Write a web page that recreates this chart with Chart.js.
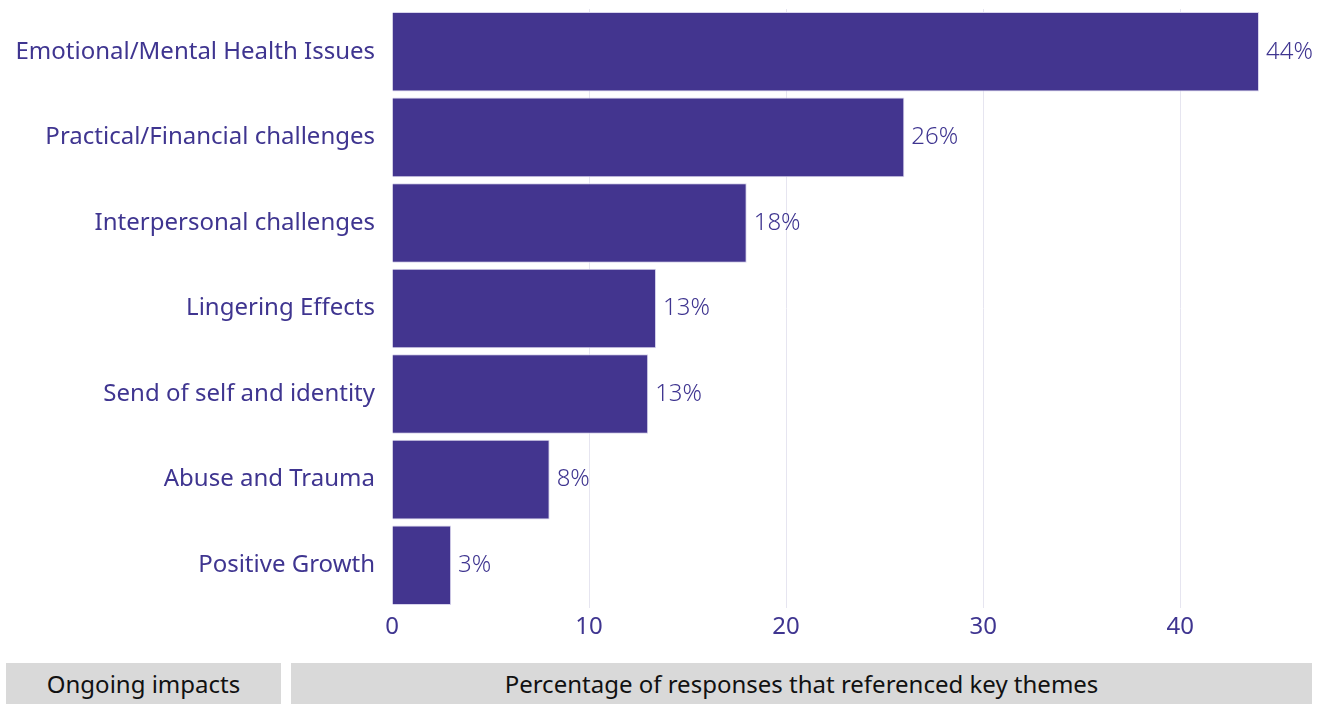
<!DOCTYPE html>
<html>
<head>
<meta charset="utf-8">
<script src="https://cdn.jsdelivr.net/npm/chart.js@4"></script>
<style>
  html, body { margin: 0; padding: 0; background: #fff; }
  body { width: 1325px; height: 704px; position: relative; overflow: hidden; font-family: "Noto Sans", sans-serif; }
  #wrap { position: absolute; left: 0; top: 0; width: 1325px; height: 655px; }
  .box { position: absolute; top: 663px; height: 41px; background: #d9d9d9; color: #111;
         font-size: 24px; line-height: 42px; text-align: center; }
  #boxLeft { left: 6px; width: 275px; }
  #boxRight { left: 291px; width: 1021px; }
</style>
</head>
<body>
<div id="wrap"><canvas id="chart"></canvas></div>
<div class="box" id="boxLeft">Ongoing impacts</div>
<div class="box" id="boxRight">Percentage of responses that referenced key themes</div>
<script>
const themes = [
  "Emotional/Mental Health Issues",
  "Practical/Financial challenges",
  "Interpersonal challenges",
  "Lingering Effects",
  "Send of self and identity",
  "Abuse and Trauma",
  "Positive Growth"
];
const shares = [44, 26, 18, 13.4, 13, 8, 3];
const shareLabels = ["44%", "26%", "18%", "13%", "13%", "8%", "3%"];
const xTicks = [0, 10, 20, 30, 40];

const PURPLE = "#43358f";
const TEXT = "#3f3590";
const FONT = "'Noto Sans', sans-serif";

// percentage text just past the end of each bar
const valueLabels = {
  id: "valueLabels",
  afterDatasetsDraw(chart) {
    const ctx = chart.ctx;
    const meta = chart.getDatasetMeta(0);
    ctx.save();
    ctx.font = "300 24px " + FONT;
    ctx.fillStyle = TEXT;
    ctx.textAlign = "left";
    ctx.textBaseline = "middle";
    meta.data.forEach((bar, i) => {
      ctx.fillText(shareLabels[i], bar.x + 7, bar.y);
    });
    ctx.restore();
  }
};

// drop the half-label padding chart.js reserves around each axis
const noEdgePadding = (scale) => {
  scale.paddingTop = 0;
  scale.paddingBottom = 0;
  scale.paddingLeft = 0;
  scale.paddingRight = 0;
};

new Chart(document.getElementById("chart").getContext("2d"), {
  type: "bar",
  data: {
    labels: themes,
    datasets: [{
      data: shares,
      backgroundColor: PURPLE,
      borderColor: "#d8d4ec",
      borderWidth: 1,
      barPercentage: 0.93,
      categoryPercentage: 1
    }]
  },
  options: {
    indexAxis: "y",
    responsive: true,
    maintainAspectRatio: false,
    animation: false,
    layout: { padding: { top: 9, right: 66, left: 0, bottom: 0 } },
    plugins: { legend: { display: false }, tooltip: { enabled: false } },
    scales: {
      x: {
        min: 0,
        max: 44,
        afterBuildTicks: (scale) => { scale.ticks = xTicks.map(v => ({ value: v })); },
        afterFit: (scale) => { noEdgePadding(scale); scale.height = 47; },
        border: { display: false },
        grid: {
          color: (c) => c.tick && c.tick.value === 0 ? "rgba(0,0,0,0)" : "#e6e5f0",
          drawTicks: false
        },
        ticks: { color: TEXT, padding: 5, font: { family: FONT, size: 24 } }
      },
      y: {
        afterFit: (scale) => { noEdgePadding(scale); scale.width = 392; },
        border: { display: false },
        grid: { display: false, drawTicks: false },
        ticks: { color: TEXT, padding: 17, font: { family: FONT, size: 24 } }
      }
    }
  },
  plugins: [valueLabels]
});
</script>
</body>
</html>
